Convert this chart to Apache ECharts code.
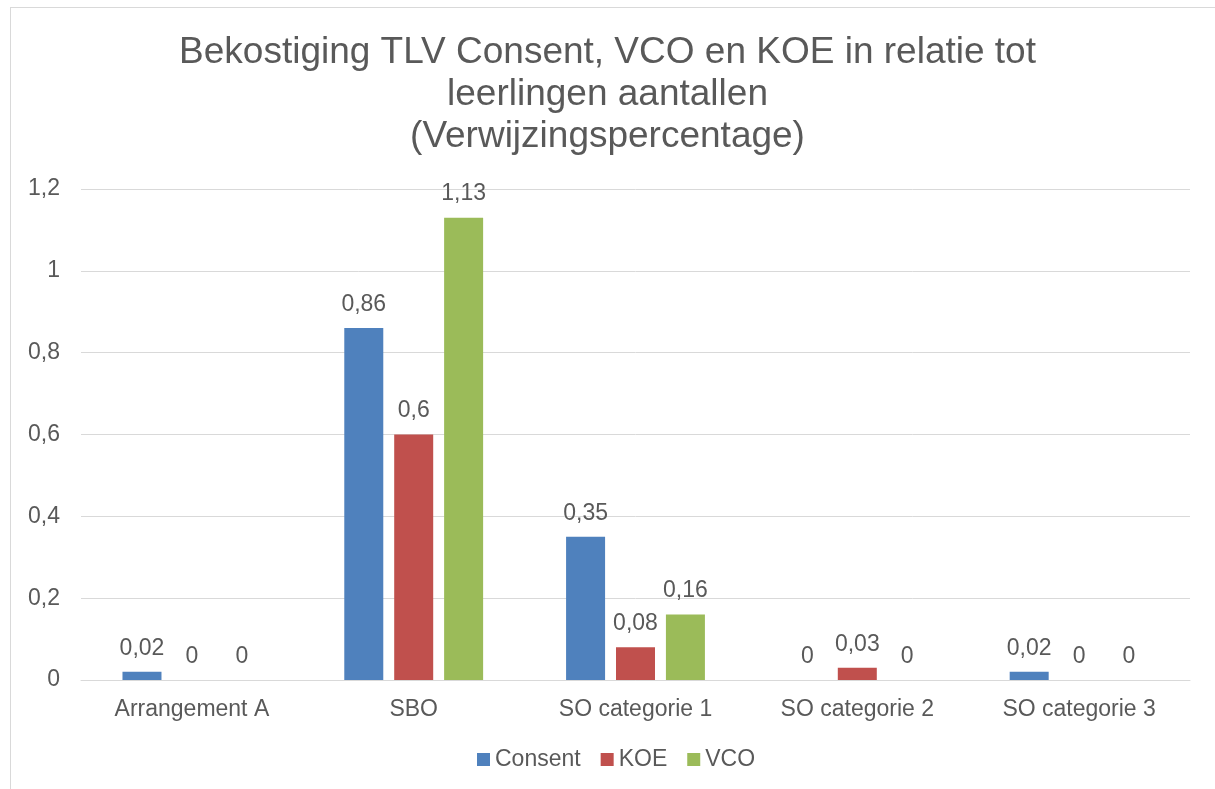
<!DOCTYPE html>
<html>
<head>
<meta charset="utf-8">
<script src="https://cdn.jsdelivr.net/npm/echarts@6/dist/echarts.min.js"></script>
<style>
  html, body { margin: 0; padding: 0; background: #fff; overflow: hidden; }
  #frame { position: absolute; left: 10px; top: 7px; width: 1220px; height: 800px; border: 1px solid #D9D9D9; box-sizing: border-box; }
  #chart { position: absolute; left: 0; top: 0; width: 1215px; height: 789px; }
</style>
</head>
<body>
<div id="frame"></div>
<div id="chart"></div>
<script>
const categories = ['Arrangement A', 'SBO', 'SO categorie 1', 'SO categorie 2', 'SO categorie 3']
const consent = [0.02, 0.86, 0.35, 0, 0.02]
const koe = [0, 0.6, 0.08, 0.03, 0]
const vco = [0, 1.13, 0.16, 0, 0]
const yTicks = [0, 0.2, 0.4, 0.6, 0.8, 1, 1.2]

const font = 'Liberation Sans, Arial, sans-serif'
const textColor = '#595959'
const comma = v => String(v).replace('.', ',')

const labelStyle = {
  show: true,
  position: 'top',
  distance: 12,
  fontSize: 23,
  fontFamily: font,
  color: textColor,
  formatter: p => comma(p.value)
}

function bar (name, data, color) {
  return {
    type: 'bar',
    name: name,
    data: data,
    barWidth: 39,
    barGap: '28%',
    itemStyle: { color: color },
    label: labelStyle
  }
}

const chart = echarts.init(document.getElementById('chart'))
chart.setOption({
  animation: false,
  title: {
    text: 'Bekostiging TLV Consent, VCO en KOE in relatie tot\nleerlingen aantallen\n(Verwijzingspercentage)',
    left: 'center',
    top: 27,
    textStyle: {
      fontSize: 37,
      fontWeight: 'normal',
      fontFamily: font,
      color: textColor,
      lineHeight: 42
    }
  },
  legend: {
    bottom: 13,
    left: 472,
    icon: 'rect',
    itemWidth: 13,
    itemHeight: 13,
    itemGap: 20,
    textStyle: { fontSize: 23, fontFamily: font, color: textColor },
    data: ['Consent', 'KOE', 'VCO']
  },
  grid: {
    left: 81,
    right: 25,
    top: 189,
    bottom: 109,
    containLabel: false
  },
  xAxis: {
    type: 'category',
    data: categories,
    axisTick: { show: false },
    axisLine: { lineStyle: { color: '#D9D9D9', width: 1 } },
    axisLabel: { fontSize: 23, fontFamily: font, color: textColor, margin: 18 }
  },
  yAxis: {
    type: 'value',
    min: yTicks[0],
    max: yTicks[yTicks.length - 1],
    interval: 0.2,
    axisLine: { show: false },
    axisTick: { show: false },
    axisLabel: {
      fontSize: 23,
      fontFamily: font,
      color: textColor,
      margin: 21,
      formatter: v => comma(Math.round(v * 10) / 10)
    },
    splitLine: { lineStyle: { color: '#D9D9D9', width: 1 } }
  },
  series: [
    bar('Consent', consent, '#4F81BD'),
    bar('KOE', koe, '#C0504D'),
    bar('VCO', vco, '#9BBB59')
  ]
})
</script>
</body>
</html>
